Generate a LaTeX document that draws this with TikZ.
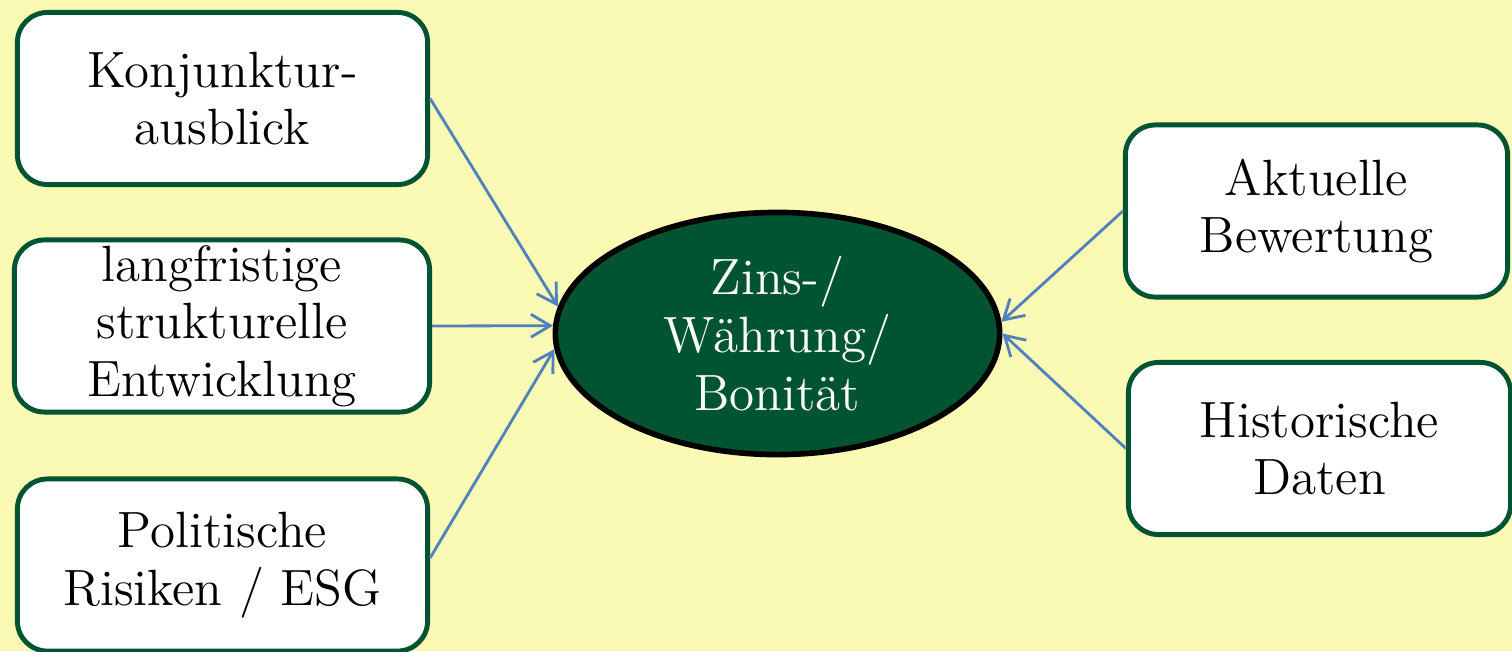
\documentclass[tikz,border=0pt]{standalone}
\usetikzlibrary{shapes.geometric, arrows.meta}

\definecolor{paleyellow}{RGB}{250,250,180}
\definecolor{darkgreen}{RGB}{0,84,50}
\definecolor{arrowblue}{RGB}{79,129,189}

\begin{document}
\begin{tikzpicture}[
            x=0.01cm, y=-0.01cm,
            factor/.style={
                    rectangle,
                    line width=1.4pt,
                    rounded corners=0.3cm,
                    draw=darkgreen,
                    fill=white,
                    align=center,
                    font=\fontsize{14.5}{16.4}\selectfont,
                    minimum width=4.1cm,
                    minimum height=1.72cm,
                    inner sep=0pt
                },
            target/.style={
                    ellipse,
                    line width=1.6pt,
                    draw=black,
                    fill=darkgreen,
                    text=white,
                    align=center,
                    font=\fontsize{14.5}{16.4}\selectfont,
                    minimum width=4.44cm,
                    minimum height=2.42cm,
                    inner sep=0pt
                },
            line/.style={
                    draw=arrowblue,
                    line width=0.8pt,
                    -{Straight Barb[length=5.5pt, width=6.5pt]}
                }
        ]

        % Background and frame
        \useasboundingbox (0,0) rectangle (1512,651);
        \clip (0,0) rectangle (1512,651);
        \fill [paleyellow] (0,0) rectangle (1512,651);

        % Nodes
        \node [target] (zins) at (777.5,333.5) {Zins-/\\Währung/\\Bonität};
        \node [factor] (konj) at (222.5,98.5) {Konjunktur-\\ausblick};
        \node [factor, minimum width=4.15cm] (lang) at (222,326) {langfristige\\strukturelle\\Entwicklung};
        \node [factor] (polit) at (222.5,565) {Politische\\Risiken / ESG};
        \node [factor, minimum width=3.82cm] (akt) at (1316.5,211) {Aktuelle\\Bewertung};
        \node [factor, minimum width=3.82cm] (hist) at (1319.5,448.5) {Historische\\Daten};

        % Arrows into the centre
        \path [line] (konj.east) -- (zins.173);
        \path [line] (lang.east) -- (zins.178);
        \path [line] ([yshift=0.07cm]polit.east) -- (zins.184);
        \path [line] (akt.west) -- (zins.3);
        \path [line] (hist.west) -- (zins.east);
    \end{tikzpicture}
\end{document}
